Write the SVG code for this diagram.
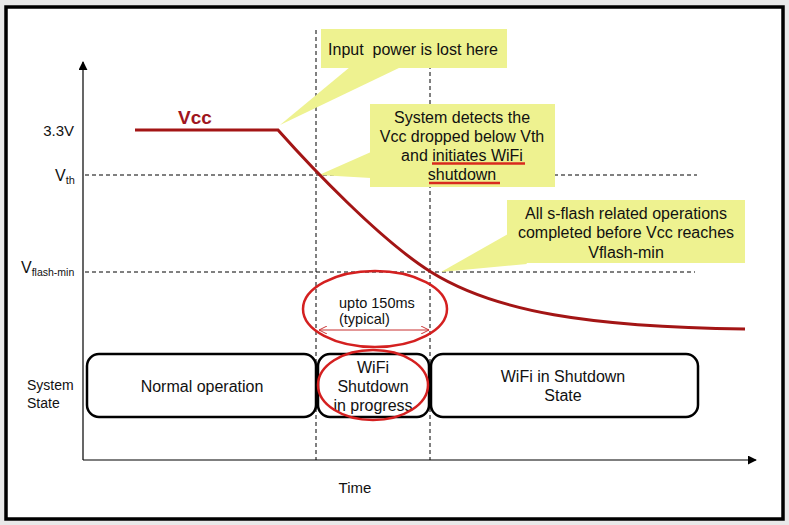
<svg xmlns="http://www.w3.org/2000/svg" width="789" height="525" viewBox="0 0 789 525">
<defs>
<style>
text{font-family:"Liberation Sans",Arial,sans-serif;fill:#111}
.t16{font-size:16px;text-anchor:middle}
.lbl{font-size:15px}
.dash{stroke:#000;stroke-width:1;stroke-dasharray:4 3;fill:none}
.call{fill:#eef290;stroke:none}
.box{fill:#fff;stroke:#000;stroke-width:2.5}
.ring{fill:none;stroke:#d42020;stroke-width:2.5}
.ul{stroke:#d82a1e;stroke-width:2.5}
</style>
<marker id="ah" viewBox="0 0 10 10" refX="9" refY="5" markerWidth="9" markerHeight="9" markerUnits="userSpaceOnUse" orient="auto"><path d="M0,0 L10,5 L0,10 z" fill="#000"/></marker>
<marker id="oa" viewBox="0 0 10 10" refX="10" refY="5" markerWidth="10" markerHeight="8" markerUnits="userSpaceOnUse" orient="auto-start-reverse"><path d="M0,0 L10,5 L0,10" fill="none" stroke="#c83030" stroke-width="1.2"/></marker>
</defs>
<rect x="0" y="0" width="789" height="525" fill="#e9e9e9"/>
<rect x="6" y="7" width="777" height="512" fill="#fff" stroke="#000" stroke-width="3.5"/>

<g id="connectors">
<line x1="83" y1="460" x2="83" y2="62" stroke="#000" stroke-width="1.2" marker-end="url(#ah)"/>
<line x1="83" y1="460" x2="756" y2="460" stroke="#000" stroke-width="1.2" marker-end="url(#ah)"/>
<line class="dash" x1="316" y1="30" x2="316" y2="460"/>
<line class="dash" x1="430" y1="30" x2="430" y2="460"/>
<line class="dash" x1="85" y1="175" x2="697" y2="175"/>
<line class="dash" x1="85" y1="272" x2="695" y2="272"/>
<line x1="319" y1="330" x2="429" y2="330" stroke="#c83030" stroke-width="1" marker-start="url(#oa)" marker-end="url(#oa)"/>
</g>

<g id="labels">
<text class="lbl" x="74" y="136" text-anchor="end">3.3V</text>
<text x="55" y="181" font-size="16">V<tspan font-size="11" dy="3">th</tspan></text>
<text x="21" y="273" font-size="16">V<tspan font-size="10.5" dy="3">flash-min</tspan></text>
<text x="27" y="390" font-size="14">System</text>
<text x="27" y="408" font-size="14">State</text>
<text class="lbl" x="355" y="493" text-anchor="middle">Time</text>
</g>

<g id="callout-power-lost">
<polygon class="call" points="350,67 280,125 401,67"/>
<rect class="call" x="321" y="29" width="186" height="39"/>
<text class="t16" x="413" y="55" xml:space="preserve">Input  power is lost here</text>
</g>

<g id="callout-detects">
<polygon class="call" points="371,152 319,175 371,178"/>
<rect class="call" x="370" y="104" width="185" height="83"/>
<text class="t16" x="462" y="122.5">System detects the</text>
<text class="t16" x="462" y="141.5">Vcc dropped below Vth</text>
<text class="t16" x="462" y="160.5">and initiates WiFi</text>
<text class="t16" x="462" y="179.5">shutdown</text>
<line class="ul" x1="432" y1="163.5" x2="525" y2="163.5"/>
<line class="ul" x1="429" y1="183" x2="500" y2="183"/>
</g>

<g id="callout-flash">
<polygon class="call" points="508,234 441,272 527,264"/>
<rect class="call" x="507" y="200" width="238" height="63"/>
<text class="t16" x="626" y="218.5">All s-flash related operations</text>
<text class="t16" x="626" y="238">completed before Vcc reaches</text>
<text class="t16" x="626" y="257.5">Vflash-min</text>
</g>

<g id="vcc-curve">
<path d="M135,130 L278,130 C310,166 380,240 431,272 C495,312 590,327 745,329" fill="none" stroke="#a31515" stroke-width="3"/>
<text x="178" y="124" font-size="19" font-weight="bold" style="fill:#a01520">Vcc</text>
</g>

<g id="state-normal">
<rect class="box" x="87" y="354" width="229" height="63" rx="12"/>
<text class="t16" x="202" y="392">Normal operation</text>
</g>

<g id="state-shutdown-progress">
<rect class="box" x="318" y="354" width="111" height="63" rx="12"/>
<text class="t16" x="373" y="373">WiFi</text>
<text class="t16" x="373" y="392">Shutdown</text>
<text class="t16" x="373" y="410.5">in progress</text>
</g>

<g id="state-shutdown">
<rect class="box" x="431" y="354" width="267" height="63" rx="12"/>
<text class="t16" x="563" y="382">WiFi in Shutdown</text>
<text class="t16" x="563" y="401">State</text>
</g>

<g id="timing-note">
<text x="339" y="308" font-size="14.5">upto 150ms</text>
<text x="339" y="324" font-size="14.5">(typical)</text>
<ellipse class="ring" cx="375" cy="309" rx="72" ry="38"/>
<ellipse class="ring" cx="373" cy="385" rx="55" ry="35"/>
</g>
</svg>
